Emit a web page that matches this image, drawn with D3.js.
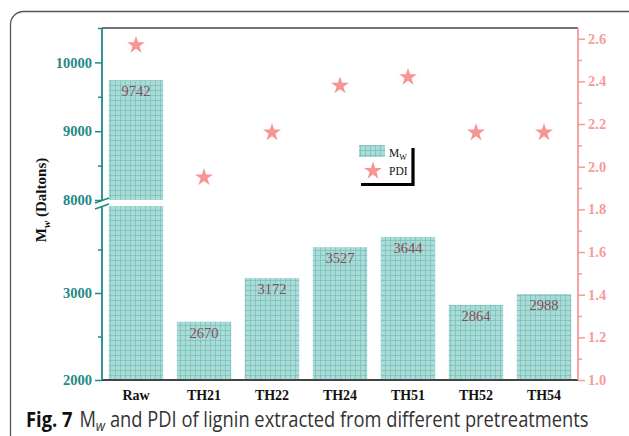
<!DOCTYPE html>
<html>
<head>
<meta charset="utf-8">
<script src="https://d3js.org/d3.v7.min.js"></script>
<style>
  body { margin: 0; background: #fff; }
  svg { display: block; }
</style>
</head>
<body>
<script>
// data
var categories = ["Raw", "TH21", "TH22", "TH24", "TH51", "TH52", "TH54"];
var mwValues = [9742, 2670, 3172, 3527, 3644, 2864, 2988];
var pdiValues = [2.57, 1.95, 2.16, 2.38, 2.42, 2.16, 2.16];
var lowTicks = [2000, 3000];
var highTicks = [8000, 9000, 10000];
var pdiTicks = [1.0, 1.2, 1.4, 1.6, 1.8, 2.0, 2.2, 2.4, 2.6];

var W = 629, H = 436;
var mLeft = 102, mRight = 578, mTop = 28, mBottom = 380;
var breakLow = 206, breakHigh = 200;

var teal = "#1f8a86", pink = "#f79a9a", serif = "'Liberation Serif', 'Times New Roman', serif";

var svg = d3.select("body").append("svg")
    .attr("width", W)
    .attr("height", H);

// grid fill for the bars
var pat = svg.append("defs").append("pattern")
    .attr("id", "grid")
    .attr("patternUnits", "userSpaceOnUse")
    .attr("width", 5).attr("height", 5);
pat.append("rect").attr("width", 5).attr("height", 5).attr("fill", "#a9dcd7");
pat.append("path").attr("d", "M0,0.3H5M0.3,0V5")
    .attr("stroke", "#6cb8b2").attr("stroke-width", 0.7);

// outer frame
svg.append("rect")
    .attr("x", 10.5).attr("y", 11.5)
    .attr("width", 640).attr("height", 460)
    .attr("rx", 13)
    .attr("fill", "none")
    .attr("stroke", "#555").attr("stroke-width", 1.3);

var x = d3.scaleBand().domain(categories).range([mLeft, mRight])
    .paddingInner(0.2).paddingOuter(0.1);
var yLow = d3.scaleLinear().domain([2000, 4000]).range([mBottom, breakLow]);
var yHigh = d3.scaleLinear().domain([8000, 10500]).range([breakHigh, mTop]);
var yR = d3.scaleLinear().domain([1.0, 2.65]).range([mBottom, mTop]);

// bars, split at the axis break
var bars = svg.append("g");
categories.forEach(function(c, i) {
    var v = mwValues[i];
    if (v > 4000) {
        bars.append("rect")
            .attr("x", x(c)).attr("width", x.bandwidth())
            .attr("y", breakLow).attr("height", mBottom - breakLow)
            .attr("fill", "url(#grid)");
        bars.append("rect")
            .attr("x", x(c)).attr("width", x.bandwidth())
            .attr("y", yHigh(v)).attr("height", breakHigh - yHigh(v))
            .attr("fill", "url(#grid)");
    } else {
        bars.append("rect")
            .attr("x", x(c)).attr("width", x.bandwidth())
            .attr("y", yLow(v)).attr("height", mBottom - yLow(v))
            .attr("fill", "url(#grid)");
    }
});

// value labels
svg.append("g").selectAll("text")
    .data(categories)
    .enter().append("text")
    .attr("x", function(d) { return x(d) + x.bandwidth() / 2; })
    .attr("y", function(d, i) {
        var v = mwValues[i];
        return (v > 4000 ? yHigh(v) : yLow(v)) + 16;
    })
    .attr("text-anchor", "middle")
    .attr("font-family", serif)
    .attr("font-size", 14.5)
    .attr("fill", "#8a4a58")
    .text(function(d, i) { return mwValues[i]; });

// plot frame top and bottom
svg.append("line").attr("x1", mLeft).attr("x2", mRight).attr("y1", mTop).attr("y2", mTop)
    .attr("stroke", "#444").attr("stroke-width", 1.5);
svg.append("line").attr("x1", mLeft).attr("x2", mRight).attr("y1", mBottom).attr("y2", mBottom)
    .attr("stroke", "#444").attr("stroke-width", 1.8);

// left axis, two segments
function styleAxis(g, col) {
    g.select(".domain").remove();
    g.selectAll(".tick line").attr("stroke", col).attr("stroke-width", 1.5);
    g.selectAll(".tick text")
        .attr("fill", col)
        .attr("font-family", serif)
        .attr("font-weight", "bold")
        .attr("font-size", 14.5);
}

var gLowMinor = svg.append("g").attr("transform", "translate(" + mLeft + ",0)")
    .call(d3.axisLeft(yLow).tickValues([2500, 3500]).tickSize(4).tickFormat(""));
styleAxis(gLowMinor, teal);
var gHighMinor = svg.append("g").attr("transform", "translate(" + mLeft + ",0)")
    .call(d3.axisLeft(yHigh).tickValues([8500, 9500, 10500]).tickSize(4).tickFormat(""));
styleAxis(gHighMinor, teal);
var gLow = svg.append("g").attr("transform", "translate(" + mLeft + ",0)")
    .call(d3.axisLeft(yLow).tickValues(lowTicks).tickSize(7).tickPadding(3).tickFormat(d3.format("d")));
styleAxis(gLow, teal);
var gHigh = svg.append("g").attr("transform", "translate(" + mLeft + ",0)")
    .call(d3.axisLeft(yHigh).tickValues(highTicks).tickSize(7).tickPadding(3).tickFormat(d3.format("d")));
styleAxis(gHigh, teal);

svg.append("line").attr("x1", mLeft).attr("x2", mLeft).attr("y1", mTop).attr("y2", breakHigh)
    .attr("stroke", teal).attr("stroke-width", 1.8);
svg.append("line").attr("x1", mLeft).attr("x2", mLeft).attr("y1", breakLow).attr("y2", mBottom)
    .attr("stroke", teal).attr("stroke-width", 1.8);
// break marks
[breakHigh + 0.5, breakLow + 0.5].forEach(function(yy) {
    svg.append("line")
        .attr("x1", mLeft - 7).attr("y1", yy + 2.5)
        .attr("x2", mLeft + 7).attr("y2", yy - 2.5)
        .attr("stroke", teal).attr("stroke-width", 1.5);
});

// right axis
var gRMinor = svg.append("g").attr("transform", "translate(" + mRight + ",0)")
    .call(d3.axisRight(yR).tickValues([1.1, 1.3, 1.5, 1.7, 1.9, 2.1, 2.3, 2.5]).tickSize(4).tickFormat(""));
styleAxis(gRMinor, pink);
var gR = svg.append("g").attr("transform", "translate(" + mRight + ",0)")
    .call(d3.axisRight(yR).tickValues(pdiTicks).tickSize(7).tickPadding(3).tickFormat(d3.format(".1f")));
styleAxis(gR, pink);
svg.append("line").attr("x1", mRight).attr("x2", mRight).attr("y1", mTop).attr("y2", mBottom)
    .attr("stroke", pink).attr("stroke-width", 1.8);

// category labels
svg.append("g").selectAll("text")
    .data(categories)
    .enter().append("text")
    .attr("x", function(d) { return x(d) + x.bandwidth() / 2; })
    .attr("y", mBottom + 20)
    .attr("text-anchor", "middle")
    .attr("font-family", serif)
    .attr("font-weight", "bold")
    .attr("font-size", 14)
    .attr("fill", "#111")
    .text(function(d) { return d; });

// PDI stars
var star = d3.symbol().type(d3.symbolStar).size(100);
svg.append("g").selectAll("path")
    .data(pdiValues)
    .enter().append("path")
    .attr("d", star)
    .attr("transform", function(d, i) {
        return "translate(" + (x(categories[i]) + x.bandwidth() / 2) + "," + yR(d) + ")";
    })
    .attr("fill", "#f79494");

// left axis title
var yt = svg.append("text")
    .attr("transform", "translate(46,200) rotate(-90)")
    .attr("text-anchor", "middle")
    .attr("font-family", serif)
    .attr("font-weight", "bold")
    .attr("font-size", 15)
    .attr("fill", "#111");
yt.append("tspan").text("M");
yt.append("tspan").attr("font-size", 11).attr("font-style", "italic").attr("dy", 4).text("w");
yt.append("tspan").attr("dy", -4).text(" (Daltons)");

// legend
var lg = svg.append("g");
lg.append("path").attr("d", "M413,148V184.5H361")
    .attr("fill", "none").attr("stroke", "#000").attr("stroke-width", 3.2);
lg.append("rect").attr("x", 359).attr("y", 145).attr("width", 26).attr("height", 12)
    .attr("fill", "url(#grid)");
var lt = lg.append("text").attr("x", 389).attr("y", 157)
    .attr("font-family", serif).attr("font-size", 11.5).attr("fill", "#111");
lt.append("tspan").text("M");
lt.append("tspan").attr("font-size", 8).attr("dy", 2.5).text("W");
lg.append("path").attr("d", star)
    .attr("transform", "translate(373,171)")
    .attr("fill", "#f79494");
lg.append("text").attr("x", 389).attr("y", 175)
    .attr("font-family", serif).attr("font-size", 11.5).attr("fill", "#111")
    .text("PDI");

// caption, squeezed to the width of the original
var cap = svg.append("text")
    .attr("font-family", "'Open Sans', 'Noto Sans', sans-serif")
    .attr("font-size", 21)
    .attr("fill", "#333");
cap.append("tspan").attr("font-weight", "bold").attr("fill", "#111").text("Fig. 7");
cap.append("tspan").attr("dx", 8).text("M");
cap.append("tspan").attr("font-size", 15).attr("font-style", "italic").attr("dy", 4).text("w");
cap.append("tspan").attr("dy", -4).text(" and PDI of lignin extracted from different pretreatments");
var capLen = cap.node().getComputedTextLength();
cap.attr("transform", "translate(26,427) scale(" + (556 / capLen) + ",1)");
</script>
</body>
</html>
